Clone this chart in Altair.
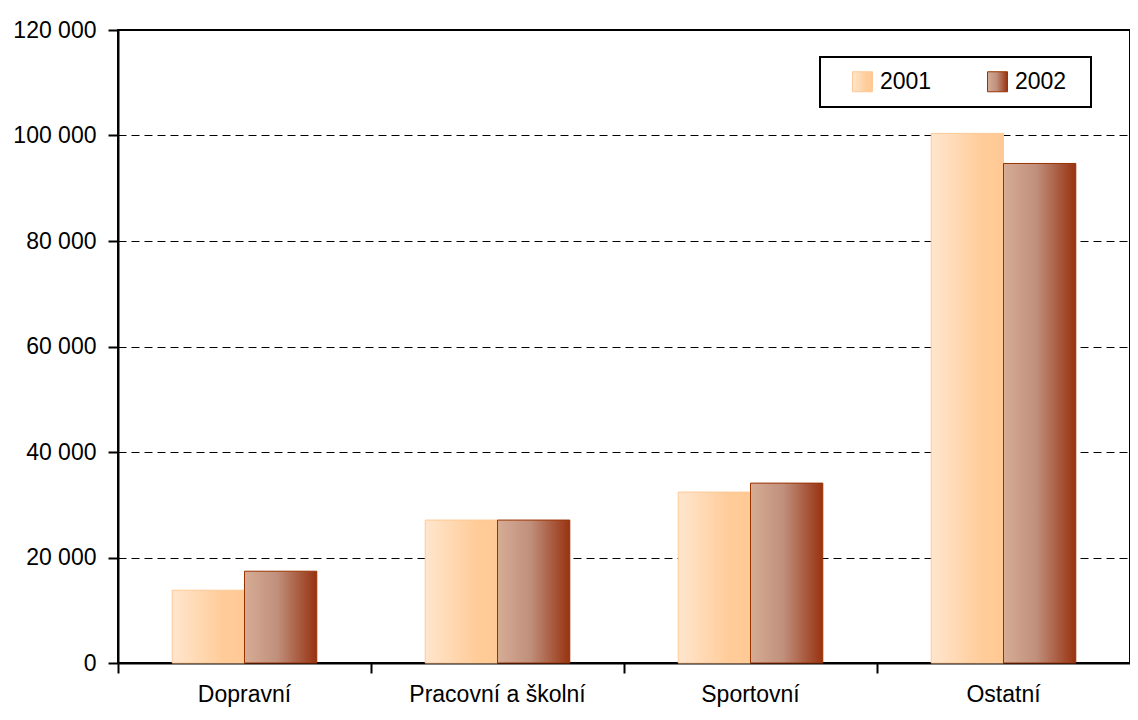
import altair as alt
import pandas as pd

categories = ["Dopravní", "Pracovní a školní", "Sportovní", "Ostatní"]
series = ["2001", "2002"]
values_2001 = [13800, 27100, 32400, 100400]
values_2002 = [17400, 27100, 34100, 94700]
y_ticks = [0, 20000, 40000, 60000, 80000, 100000, 120000]

rows = []
for c, a, b in zip(categories, values_2001, values_2002):
    rows.append({"kat": c, "rok": "2001", "val": a})
    rows.append({"kat": c, "rok": "2002", "val": b})
df = pd.DataFrame(rows)

FONT = "Liberation Sans"

stops01 = [("#FFE6CE", 0), ("#FFCC99", 0.7), ("#FFC994", 1)]
stops02 = [("#D6AC95", 0), ("#C0907C", 0.45), ("#A65438", 0.8), ("#983210", 1)]


def grad_expr(stops):
    s = ", ".join("{color: '%s', offset: %s}" % (c, o) for c, o in stops)
    return "{gradient: 'linear', x1: 0, x2: 1, y1: 0, y2: 0, stops: [%s]}" % s


fill_range = [alt.ExprRef(expr=grad_expr(stops01)), alt.ExprRef(expr=grad_expr(stops02))]

chart = alt.Chart(df).mark_bar(strokeWidth=1).encode(
    x=alt.X("kat:N", sort=categories,
            scale=alt.Scale(paddingInner=0, paddingOuter=0),
            axis=alt.Axis(title=None, bandPosition=0, tickSize=10, tickWidth=2,
                          tickColor="black", domainColor="black", domainWidth=2,
                          labelFont=FONT, labelFontSize=23, labelColor="black",
                          labelPadding=10, labelAngle=0, grid=False)),
    xOffset=alt.XOffset("rok:N", sort=series,
                        scale=alt.Scale(domain=series, paddingInner=0, paddingOuter=0.75)),
    y=alt.Y("val:Q", scale=alt.Scale(domain=[0, 120000], nice=False),
            axis=alt.Axis(title=None, values=y_ticks, tickSize=10, tickWidth=2,
                          tickColor="black", domainColor="black", domainWidth=2,
                          labelFont=FONT, labelFontSize=23, labelColor="black",
                          labelPadding=12,
                          labelExpr="replace(format(datum.value, ','), ',', ' ')",
                          grid=True, gridColor="black", gridWidth=1, gridDash=[8, 5])),
    fill=alt.Fill("rok:N", sort=series,
                  scale=alt.Scale(domain=series, range=fill_range),
                  legend=alt.Legend(title="\u00a0", titleOrient="right", titlePadding=12,
                                    titleFontSize=23, titleFont=FONT,
                                    orient="none", legendX=702, legendY=27,
                                    direction="horizontal", strokeColor="black",
                                    padding=13, symbolType="square", symbolSize=400,
                                    symbolOffset=18, symbolStrokeWidth=1,
                                    labelFont=FONT, labelFontSize=23, labelColor="black",
                                    columnPadding=36, labelOffset=6)),
    stroke=alt.Stroke("rok:N", sort=series,
                      scale=alt.Scale(domain=series, range=["#FFC896", "#993300"]),
                      legend=None),
).properties(
    width=1012, height=633,
    autosize=alt.AutoSizeParams(type="none"),
    padding={"left": 110, "top": 22, "right": 0, "bottom": 44},
).configure_view(stroke="black", strokeWidth=2).configure_legend(strokeWidth=2)

chart.save("out.html", embed_options={"renderer": "svg", "actions": False})
